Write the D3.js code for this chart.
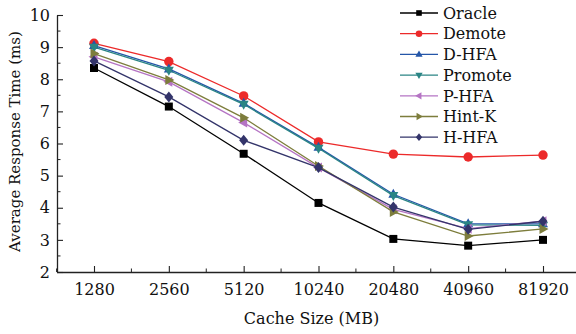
<!DOCTYPE html>
<html>
<head>
<meta charset="utf-8">
<script src="https://cdn.jsdelivr.net/npm/d3@7"></script>
<style>
  body { margin: 0; background: #fff; }
</style>
</head>
<body>
<svg id="chart" width="576" height="334"></svg>
<script>
// cache sizes (MB)
var categories = ["1280", "2560", "5120", "10240", "20480", "40960", "81920"];

var oracle  = [8.35, 7.15, 5.68, 4.15, 3.03, 2.82, 3.0];
var demote  = [9.12, 8.55, 7.48, 6.05, 5.67, 5.58, 5.64];
var dHfa    = [9.05, 8.32, 7.25, 5.88, 4.42, 3.5, 3.5];
var promote = [9.0, 8.28, 7.22, 5.85, 4.38, 3.47, 3.45];
var pHfa    = [8.7, 7.92, 6.65, 5.25, 3.95, 3.35, 3.58];
var hintK   = [8.8, 7.98, 6.8, 5.3, 3.87, 3.12, 3.34];
var hHfa    = [8.57, 7.45, 6.1, 5.25, 4.02, 3.33, 3.58];

var yTicks = [2, 3, 4, 5, 6, 7, 8, 9, 10];

var series = [
  {name: "Oracle",  values: oracle,  color: "#000000", symbol: "square"},
  {name: "Demote",  values: demote,  color: "#ec2a2a", symbol: "circle"},
  {name: "D-HFA",   values: dHfa,    color: "#2456a8", symbol: "triUp"},
  {name: "Promote", values: promote, color: "#2b8585", symbol: "triDown"},
  {name: "P-HFA",   values: pHfa,    color: "#b574c4", symbol: "triLeft"},
  {name: "Hint-K",  values: hintK,   color: "#7d7d3c", symbol: "triRight"},
  {name: "H-HFA",   values: hHfa,    color: "#33346a", symbol: "diamond"}
];

var FONT = "DejaVu Serif";

var svg = d3.select("#chart");
var margin = {left: 57, right: 0, top: 15, bottom: 62};
var width = 576 - margin.left - margin.right;
var height = 334 - margin.top - margin.bottom;

var x = d3.scalePoint().domain(categories).range([37, 486]);
var y = d3.scaleLinear().domain([2, 10]).range([height, 0]);

var g = svg.append("g").attr("transform", "translate(" + margin.left + "," + margin.top + ")");

// axes
var xAxis = g.append("g").attr("transform", "translate(0," + height + ")")
  .call(d3.axisBottom(x).tickSize(-6).tickSizeOuter(0).tickPadding(12));
var yAxis = g.append("g")
  .call(d3.axisLeft(y).tickValues(yTicks).tickSize(-6).tickSizeOuter(0).tickPadding(7));

[xAxis, yAxis].forEach(function(a){
  a.attr("font-family", FONT).attr("font-size", 16);
  a.select(".domain").attr("stroke", "#222").attr("stroke-width", 1.3);
  a.selectAll(".tick line").attr("stroke", "#222").attr("stroke-width", 1.1);
  a.selectAll("text").attr("fill", "#111");
});
xAxis.select(".domain").attr("d", "M0,0.5H" + width);

// minor ticks
var step = x.step();
var xMinor = categories.map(function(c){ return x(c) + step / 2; })
  .concat([x(categories[0]) - step / 2]);
g.append("g").selectAll("line").data(xMinor).enter().append("line")
  .attr("x1", function(d){ return d; }).attr("x2", function(d){ return d; })
  .attr("y1", height).attr("y2", height - 3.5)
  .attr("stroke", "#222").attr("stroke-width", 1);
var yMinor = d3.range(2.5, 10, 1);
g.append("g").selectAll("line").data(yMinor).enter().append("line")
  .attr("x1", 0).attr("x2", 3.5)
  .attr("y1", function(d){ return y(d); }).attr("y2", function(d){ return y(d); })
  .attr("stroke", "#222").attr("stroke-width", 1);

function symbolPath(s, k) {
  var r = 4.5 * k;
  if (s === "square") return d3.symbol(d3.symbolSquare, 64 * k * k)();
  if (s === "circle") return d3.symbol(d3.symbolCircle, 70 * k * k)();
  if (s === "diamond") return "M0," + (-r - k) + "L" + r + ",0L0," + (r + k) + "L" + (-r) + ",0Z";
  var pts = {
    triUp:    [[0, -r - k], [r + 0.5, r - k], [-r - 0.5, r - k]],
    triDown:  [[0, r + k], [r + 0.5, -r + k], [-r - 0.5, -r + k]],
    triLeft:  [[-r - k, 0], [r - k, -r - 0.5], [r - k, r + 0.5]],
    triRight: [[r + k, 0], [-r + k, -r - 0.5], [-r + k, r + 0.5]]
  }[s];
  return "M" + pts.map(function(p){ return p.join(","); }).join("L") + "Z";
}

var line = d3.line()
  .x(function(d, i){ return x(categories[i]); })
  .y(function(d){ return y(d); });

series.forEach(function(s){
  var sg = g.append("g");
  sg.append("path").datum(s.values).attr("d", line)
    .attr("fill", "none").attr("stroke", s.color).attr("stroke-width", 1.3);
  sg.selectAll("path.pt").data(s.values).enter().append("path")
    .attr("class", "pt")
    .attr("transform", function(d, i){ return "translate(" + x(categories[i]) + "," + y(d) + ")"; })
    .attr("d", symbolPath(s.symbol, 1))
    .attr("fill", s.color);
});

// legend
var legend = svg.append("g").attr("transform", "translate(400,13)");
series.forEach(function(s, i){
  var lg = legend.append("g").attr("transform", "translate(0," + (i * 20.7) + ")");
  lg.append("line").attr("x1", 0).attr("x2", 38).attr("y1", 0).attr("y2", 0)
    .attr("stroke", s.color).attr("stroke-width", 1.3);
  lg.append("path").attr("transform", "translate(19,0)")
    .attr("d", symbolPath(s.symbol, 0.7)).attr("fill", s.color);
  lg.append("text").attr("x", 43).attr("y", 0).attr("dy", "0.36em")
    .attr("font-family", FONT).attr("font-size", 16).attr("fill", "#111")
    .text(s.name);
});

// axis titles
svg.append("text")
  .attr("x", margin.left + width / 2 - 5).attr("y", 324)
  .attr("text-anchor", "middle")
  .attr("font-family", FONT).attr("font-size", 16).attr("fill", "#111")
  .text("Cache Size (MB)");
svg.append("text")
  .attr("transform", "translate(20," + (margin.top + height / 2 - 2) + ") rotate(-90)")
  .attr("text-anchor", "middle")
  .attr("font-family", FONT).attr("font-size", 15).attr("fill", "#111")
  .text("Average Response Time (ms)");
</script>
</body>
</html>
